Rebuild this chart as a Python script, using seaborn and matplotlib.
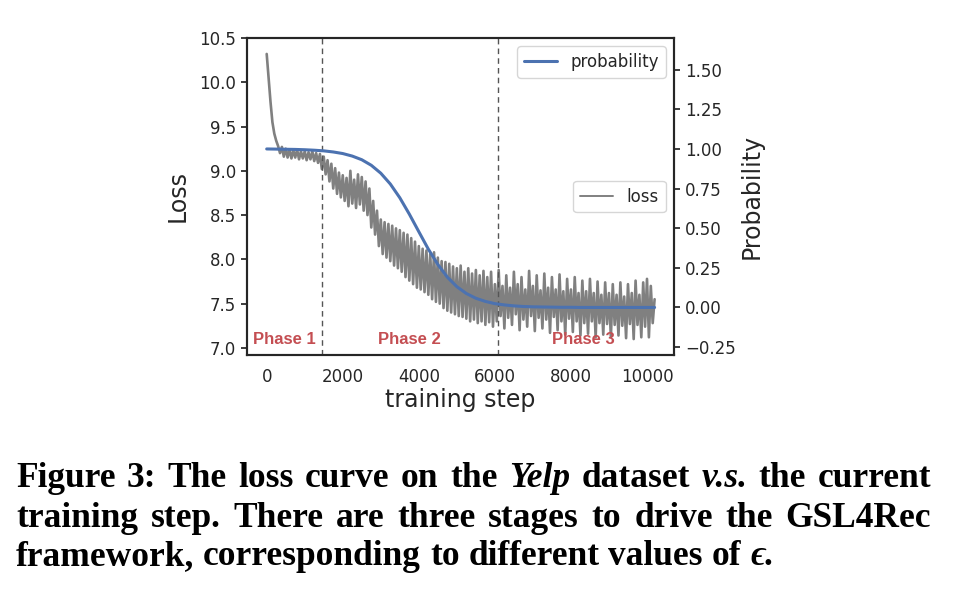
import numpy as np
import matplotlib
matplotlib.use("Agg")
import matplotlib.pyplot as plt
import seaborn as sns

# loss every 50 steps (peaks and troughs alternate)
loss_steps = np.arange(0, 10201, 50)
loss = [
    10.32, 10.05, 9.78, 9.55, 9.42, 9.34, 9.28, 9.20, 9.27, 9.16,
    9.25, 9.15, 9.24, 9.14, 9.23, 9.15, 9.24, 9.13, 9.22, 9.14,
    9.22, 9.12, 9.21, 9.13, 9.22, 9.11, 9.20, 9.09, 9.19, 9.02,
    9.16, 8.96, 9.12, 8.88, 9.08, 8.80, 9.03, 8.74, 8.98, 8.70,
    8.95, 8.66, 8.92, 8.60, 9.00, 8.63, 8.90, 8.58, 8.96, 8.62,
    8.93, 8.55, 8.88, 8.50, 8.80, 8.36, 8.66, 8.28, 8.55, 8.15,
    8.45, 8.06, 8.42, 8.02, 8.40, 7.98, 8.38, 7.93, 8.35, 7.90,
    8.33, 7.86, 8.30, 7.80, 8.28, 7.76, 8.24, 7.72, 8.20, 7.68,
    8.15, 7.66, 8.12, 7.63, 8.10, 7.60, 8.06, 7.55, 8.08, 7.52,
    8.02, 7.50, 7.98, 7.45, 7.97, 7.42, 7.95, 7.40, 7.92, 7.38,
    7.90, 7.36, 7.93, 7.35, 7.86, 7.33, 7.90, 7.30, 7.84, 7.32,
    7.88, 7.28, 7.82, 7.30, 7.87, 7.26, 7.80, 7.29, 7.86, 7.24,
    7.72, 7.30, 7.88, 7.36, 7.70, 7.22, 7.82, 7.34, 7.68, 7.26,
    7.86, 7.38, 7.72, 7.20, 7.80, 7.32, 7.66, 7.24, 7.87, 7.36,
    7.70, 7.19, 7.82, 7.34, 7.65, 7.22, 7.84, 7.32, 7.68, 7.17,
    7.80, 7.35, 7.66, 7.20, 7.83, 7.30, 7.64, 7.15, 7.78, 7.33,
    7.66, 7.18, 7.80, 7.30, 7.62, 7.14, 7.76, 7.28, 7.64, 7.16,
    7.78, 7.30, 7.62, 7.12, 7.75, 7.28, 7.60, 7.15, 7.74, 7.27,
    7.62, 7.12, 7.72, 7.26, 7.60, 7.14, 7.74, 7.25, 7.58, 7.11,
    7.72, 7.27, 7.62, 7.10, 7.76, 7.26, 7.60, 7.12, 7.74, 7.24,
    7.78, 7.12, 7.70, 7.28, 7.55,
]

# probability every 250 steps
prob_steps = np.append(np.arange(0, 10001, 250), 10200)
probability = [
    1.000, 0.999, 0.998, 0.997, 0.995, 0.992, 0.988, 0.981, 0.971, 0.955,
    0.932, 0.897, 0.847, 0.779, 0.692, 0.589, 0.478, 0.368, 0.271, 0.191,
    0.131, 0.088, 0.058, 0.038, 0.024, 0.016, 0.010, 0.006, 0.004, 0.003,
    0.002, 0.001, 0.001, 0.0, 0.0, 0.0, 0.0, 0.0, 0.0, 0.0,
    0.0, 0.0,
]

phase_names = ["Phase 1", "Phase 2", "Phase 3"]
phase_x = [470, 3740, 8330]
phase_bounds = [1450, 6080]

caption = [
    [("Figure", False), ("3:", False), ("The", False), ("loss", False), ("curve", False),
     ("on", False), ("the", False), ("Yelp", True), ("dataset", False), ("v.s.", True),
     ("the", False), ("current", False)],
    [(w, False) for w in "training step. There are three stages to drive the GSL4Rec".split()],
    [(w, False) for w in "framework, corresponding to different values of".split()] + [("\u03f5.", True)],
]

W, H = 955, 589

sns.set_style("ticks")
plt.rcParams["font.family"] = ["DejaVu Sans"]

fig = plt.figure(figsize=(W / 100, H / 100), dpi=100)
ax = fig.add_axes([247.3 / W, 1 - 355 / H, (674 - 247.3) / W, (355 - 38) / H])

sns.lineplot(x=loss_steps, y=loss, ax=ax, color="gray", linewidth=1.9,
             estimator=None, label="loss")
for b in phase_bounds:
    ax.axvline(b, color="#555555", linestyle="--", linewidth=1.0, dashes=(4, 3))
for name, px in zip(phase_names, phase_x):
    ax.text(px, 7.09, name, color="#c44e52", fontsize=12, fontweight="bold",
            family="Liberation Sans", ha="center", va="center")

ax.set_ylim(6.92, 10.5)
ax.set_xlim(-510, 10710)
ax.set_xticks([0, 2000, 4000, 6000, 8000, 10000])
ax.set_yticks([7.0, 7.5, 8.0, 8.5, 9.0, 9.5, 10.0, 10.5])
ax.tick_params(axis="x", length=0, pad=9, labelsize=12)
ax.tick_params(axis="y", length=4.5, width=1.25, pad=3.5, labelsize=12)
ax.set_xlabel("training step", fontsize=17, labelpad=2)
ax.set_ylabel("Loss", fontsize=17, labelpad=7)
leg = ax.legend(loc="center right", fontsize=12)
leg.get_lines()[0].set_linewidth(1.4)

ax2 = ax.twinx()
sns.lineplot(x=prob_steps, y=probability, ax=ax2, color="#4c72b0", linewidth=2.2,
             estimator=None, label="probability")
ax2.set_ylim(-0.3, 1.7)
ax2.set_yticks([-0.25, 0.0, 0.25, 0.5, 0.75, 1.0, 1.25, 1.5])
ax2.tick_params(axis="y", length=4.5, width=1.25, pad=3.5, labelsize=12)
ax2.set_ylabel("Probability", fontsize=17, labelpad=3)
ax2.legend(loc="upper right", fontsize=12)

for a in (ax, ax2):
    for s in a.spines.values():
        s.set_linewidth(1.5)
        s.set_color("#262626")

# caption under the chart, first two lines justified
renderer = fig.canvas.get_renderer()
baselines = [487, 527, 565]
cap_size = 25.5
for i, (pieces, yb) in enumerate(zip(caption, baselines)):
    texts = []
    for word, italic in pieces:
        t = fig.text(0, 1 - yb / H, word, fontsize=cap_size, fontweight="bold",
                     fontstyle="italic" if italic else "normal",
                     family=["Liberation Serif", "DejaVu Serif"],
                     ha="left", va="baseline", color="black")
        texts.append(t)
    widths = [t.get_window_extent(renderer).width for t in texts]
    if i < 2:
        gap = (931 - 16 - sum(widths)) / (len(texts) - 1)
    else:
        gap = 0.25 * cap_size * fig.dpi / 72
    x = 16
    for t, w in zip(texts, widths):
        t.set_x(x / W)
        x += w + gap

fig.savefig("out.png", dpi=100)
